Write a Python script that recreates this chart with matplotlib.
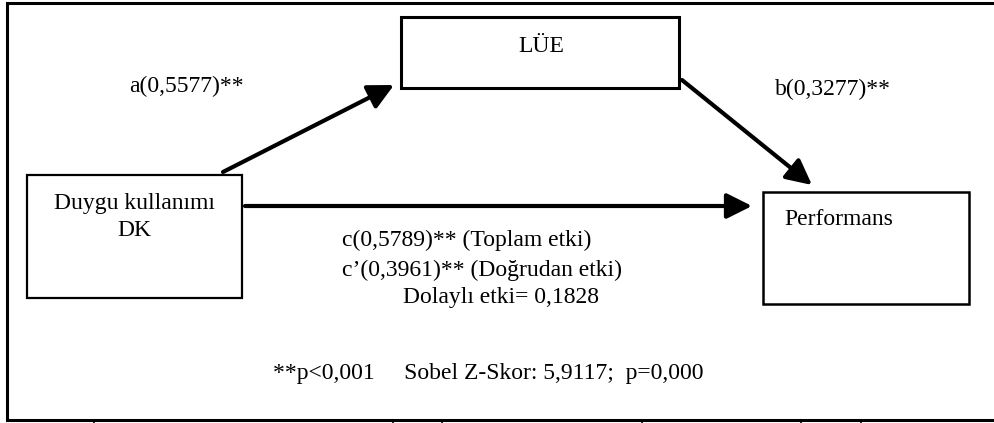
import matplotlib
matplotlib.use("Agg")
import matplotlib.pyplot as plt
from matplotlib.patches import Rectangle, FancyArrowPatch

plt.rcParams['font.family'] = ['Liberation Serif', 'DejaVu Serif']

# model labels and coefficients
box_names = ["LÜE", "Duygu kullanımı\nDK", "Performans"]
coef_a = "0,5577"
coef_b = "0,3277"
coef_c = "0,5789"
coef_c_prime = "0,3961"
indirect = "0,1828"
sobel_z = "5,9117"
sobel_p = "0,000"

W, H = 995, 423
fig = plt.figure(figsize=(W / 100, H / 100), dpi=100)
ax = fig.add_axes([0, 0, 1, 1])
ax.set_xlim(0, W)
ax.set_ylim(H, 0)
ax.axis("off")

fs = 17

# outer frame (right edge runs off the image)
ax.plot([1000, 7, 7, 1000], [3, 3, 420, 420], color="black", lw=2.2,
        solid_joinstyle="miter")
# stubs of the table below
for x in [94, 393, 442, 642, 801, 861]:
    ax.plot([x, x], [420, 424], color="black", lw=1.2)

# boxes: (x0, y0, x1, y1, lw)
boxes = [(401, 17, 679, 88, 2.2), (27, 175, 242, 298, 1.6), (763, 192, 969, 304, 1.8)]
for (x0, y0, x1, y1, lw) in boxes:
    ax.add_patch(Rectangle((x0, y0), x1 - x0, y1 - y0, fill=False,
                           edgecolor="black", lw=lw))

ax.text(541, 52, box_names[0], ha="center", va="baseline", fontsize=fs)
ax.text(134, 209, box_names[1].split("\n")[0], ha="center", va="baseline", fontsize=fs)
ax.text(134, 236, box_names[1].split("\n")[1], ha="center", va="baseline", fontsize=fs)
ax.text(784, 225, box_names[2], ha="left", va="baseline", fontsize=fs)

# arrows
arrows = [((223, 172), (394, 85)), ((682, 80), (812, 185)), ((245, 206), (752, 206))]
for start, end in arrows:
    ax.add_patch(FancyArrowPatch(start, end, arrowstyle="-|>,head_length=1.1,head_width=0.55",
                                 mutation_scale=14, lw=3, color="black",
                                 shrinkA=0, shrinkB=0))

ax.text(129, 92, f"a({coef_a})**", ha="left", va="baseline", fontsize=fs)
ax.text(775, 95, f"b({coef_b})**", ha="left", va="baseline", fontsize=fs)
ax.text(342, 246, f"c({coef_c})** (Toplam etki)", ha="left", va="baseline", fontsize=fs)
ax.text(342, 276, f"c\u2019({coef_c_prime})** (Doğrudan etki)", ha="left", va="baseline", fontsize=fs)
ax.text(403, 303, f"Dolaylı etki= {indirect}", ha="left", va="baseline", fontsize=fs)
ax.text(273, 379, f"**p<0,001     Sobel Z-Skor: {sobel_z};  p={sobel_p}",
        ha="left", va="baseline", fontsize=fs)

fig.savefig("out.png", dpi=100)
